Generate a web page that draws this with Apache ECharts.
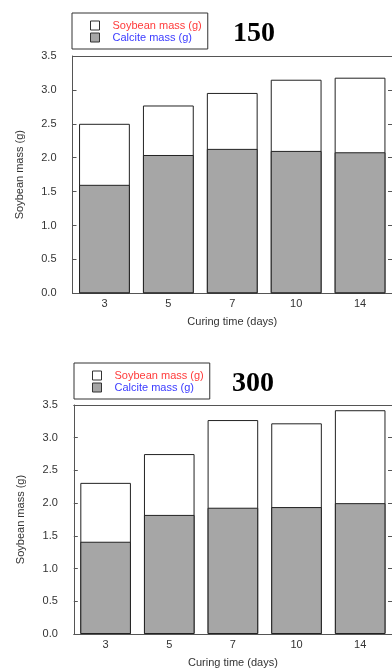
<!DOCTYPE html>
<html>
<head>
<meta charset="utf-8">
<script src="https://cdn.jsdelivr.net/npm/echarts@6/dist/echarts.min.js"></script>
<style>
html,body{margin:0;padding:0;background:#fff;}
#chart{width:392px;height:669px;}
</style>
</head>
<body>
<div id="chart"></div>
<script>
const categories = ['3', '5', '7', '10', '14'];
const soybean150 = [2.50, 2.77, 2.955, 3.15, 3.18];
const calcite150 = [1.60, 2.04, 2.13, 2.10, 2.08];
const soybean300 = [2.31, 2.75, 3.27, 3.22, 3.42];
const calcite300 = [1.41, 1.82, 1.93, 1.94, 2.00];
const titles = ['150', '300'];
const seriesNames = ['Soybean mass (g)', 'Calcite mass (g)'];
const yAxisName = 'Soybean mass (g)';
const xAxisName = 'Curing time (days)';

const FONT = 'Liberation Sans';
const AXIS = '#555';
const TEXT = '#333';

const chart = echarts.init(document.getElementById('chart'), null, {renderer: 'canvas'});

const grids = [
  {left: 72.5, top: 56, width: 322, height: 237.3},
  {left: 73.8, top: 405, width: 319.5, height: 233.3}
];

function legendFor(left, top, padLeft) {
  return {
    orient: 'vertical', left: left, top: top,
    padding: [7, 6, 6, padLeft],
    borderColor: '#333', borderWidth: 1,
    itemWidth: 9, itemHeight: 9, itemGap: 1,
    icon: 'rect',
    selectedMode: false,
    textStyle: {fontFamily: FONT, fontSize: 11, lineHeight: 11, padding: [0, 0, 0, 8]},
    data: [
      {name: seriesNames[0], itemStyle: {color: '#fff', borderColor: '#333', borderWidth: 1},
       textStyle: {color: '#ff3b3b'}},
      {name: seriesNames[1], itemStyle: {color: '#a6a6a6', borderColor: '#333', borderWidth: 1},
       textStyle: {color: '#3b3bff'}}
    ]
  };
}

const xAxes = [], yAxes = [], series = [];
grids.forEach((g, i) => {
  xAxes.push({
    type: 'category', gridIndex: i, data: categories, position: 'bottom',
    axisLine: {onZero: false, lineStyle: {color: AXIS, width: 1}},
    axisTick: {inside: true, length: 5, lineStyle: {color: AXIS}},
    axisLabel: {color: TEXT, fontFamily: FONT, fontSize: 11, margin: 5},
    name: xAxisName, nameLocation: 'middle', nameGap: 23,
    nameTextStyle: {color: TEXT, fontFamily: FONT, fontSize: 11}
  });
  xAxes.push({
    type: 'category', gridIndex: i, data: categories, position: 'top',
    axisLine: {onZero: false, lineStyle: {color: AXIS, width: 1}},
    axisTick: {inside: true, length: 5, lineStyle: {color: AXIS}},
    axisLabel: {show: false}
  });
  yAxes.push({
    type: 'value', gridIndex: i, min: 0, max: 3.5, interval: 0.5, position: 'left',
    axisLine: {show: true, onZero: false, lineStyle: {color: AXIS, width: 1}},
    axisTick: {show: true, inside: true, length: 4, lineStyle: {color: AXIS}},
    splitLine: {show: false},
    axisLabel: {color: TEXT, fontFamily: FONT, fontSize: 11, margin: 16,
      formatter: v => v.toFixed(1)},
    name: yAxisName, nameLocation: 'middle', nameGap: 47,
    nameTextStyle: {color: TEXT, fontFamily: FONT, fontSize: 11}
  });
  yAxes.push({
    type: 'value', gridIndex: i, min: 0, max: 3.5, interval: 0.5, position: 'right',
    axisLine: {show: true, onZero: false, lineStyle: {color: AXIS, width: 1}},
    axisTick: {show: true, inside: true, length: 4, lineStyle: {color: AXIS}},
    splitLine: {show: false},
    axisLabel: {show: false}
  });
});

const sets = [[soybean150, calcite150], [soybean300, calcite300]];
sets.forEach((s, i) => {
  series.push({
    type: 'bar', name: seriesNames[0], xAxisIndex: i * 2, yAxisIndex: i * 2,
    data: s[0], barWidth: '79.5%', barGap: '-100%',
    itemStyle: {color: '#fff', borderColor: '#222', borderWidth: 1},
    emphasis: {disabled: true}, z: 2
  });
  series.push({
    type: 'bar', name: seriesNames[1], xAxisIndex: i * 2, yAxisIndex: i * 2,
    data: s[1], barWidth: '79.5%', barGap: '-100%',
    itemStyle: {color: '#a6a6a6', borderColor: '#222', borderWidth: 1},
    emphasis: {disabled: true}, z: 3
  });
});

chart.setOption({
  animation: false,
  backgroundColor: '#fff',
  title: [
    {text: titles[0], left: 233, top: 20, padding: 0,
     textStyle: {fontFamily: 'Liberation Serif', fontWeight: 'bold', fontSize: 28, color: '#000'}},
    {text: titles[1], left: 232, top: 370, padding: 0,
     textStyle: {fontFamily: 'Liberation Serif', fontWeight: 'bold', fontSize: 28, color: '#000'}}
  ],
  legend: [legendFor(72, 13, 18), legendFor(74, 363, 18)],
  grid: grids,
  xAxis: xAxes,
  yAxis: yAxes,
  series: series
});
</script>
</body>
</html>
